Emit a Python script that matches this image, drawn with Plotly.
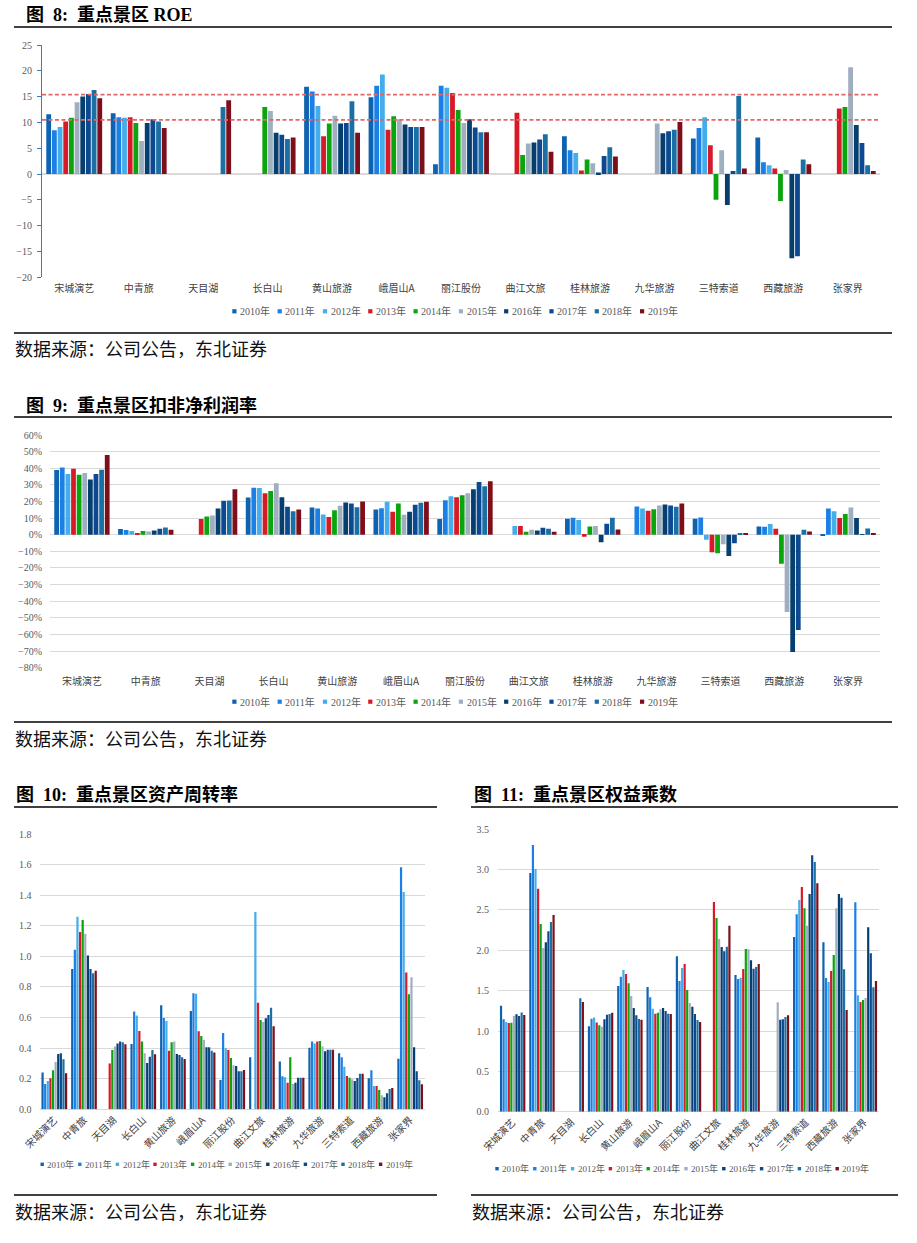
import plotly.graph_objects as go

# ---------------- data ----------------
categories = ["宋城演艺", "中青旅", "天目湖", "长白山", "黄山旅游", "峨眉山A", "丽江股份",
              "曲江文旅", "桂林旅游", "九华旅游", "三特索道", "西藏旅游", "张家界"]
years = ["2010年", "2011年", "2012年", "2013年", "2014年", "2015年", "2016年", "2017年", "2018年", "2019年"]
colors = ["#0d63b0", "#1b7fe6", "#44aeea", "#d71a28", "#0aa40c",
          "#a0afc0", "#063e6e", "#0d4991", "#1a70a5", "#7e0e19"]

N = None
# ROE (%), one row per company, columns 2010..2019
roe = [
    [11.6, 8.5, 9.1, 10.2, 10.9, 13.9, 15.0, 15.5, 16.3, 14.7],
    [11.8, 11.0, 10.9, 11.0, 9.9, 6.4, 9.9, 10.6, 10.2, 8.9],
    [N, N, N, N, N, N, N, N, 13.0, 14.3],
    [N, N, N, N, 13.0, 12.2, 8.0, 7.6, 6.8, 7.1],
    [16.9, 16.0, 13.2, 7.3, 9.8, 11.3, 9.8, 9.9, 14.1, 8.0],
    [14.9, 17.1, 19.3, 8.6, 11.2, 10.6, 9.6, 9.1, 9.1, 9.1],
    [1.9, 17.1, 16.7, 15.7, 12.4, 9.9, 10.6, 9.0, 8.1, 8.1],
    [N, N, N, 11.9, 3.7, 5.9, 6.1, 6.7, 7.7, 4.3],
    [7.3, 4.6, 4.1, 0.7, 2.8, 2.1, 0.3, 3.5, 5.2, 3.4],
    [N, N, N, N, N, 9.8, 7.9, 8.3, 8.6, 10.1],
    [6.9, 8.9, 11.0, 5.6, -5.0, 4.6, -6.0, 0.6, 15.1, 1.1],
    [7.1, 2.3, 1.7, 1.1, -5.2, 0.8, -16.3, -15.9, 2.8, 1.9],
    [N, N, N, 12.7, 13.0, 20.7, 9.5, 6.0, 1.7, 0.6],
]
roe_ref_lines = [15.4, 10.5]

# 扣非净利润率 (%)
net_margin = [
    [38.9, 40.5, 36.5, 39.7, 36.1, 37.1, 33.3, 36.5, 39.1, 47.9],
    [3.4, 2.8, 2.2, 1.0, 2.2, 2.0, 2.6, 3.6, 4.4, 3.0],
    [N, N, N, 9.4, 11.0, 11.6, 15.8, 20.4, 20.6, 27.3],
    [22.4, 28.3, 28.1, 25.0, 26.3, 30.9, 22.6, 16.8, 14.2, 15.2],
    [16.4, 15.8, 12.2, 10.6, 14.8, 17.4, 19.4, 18.8, 16.6, 20.0],
    [15.2, 16.0, 19.8, 13.8, 18.8, 12.0, 13.8, 18.0, 19.2, 19.8],
    [9.4, 20.8, 23.2, 22.6, 23.8, 25.0, 27.3, 31.7, 29.1, 32.1],
    [N, N, 5.2, 5.2, 1.8, 3.0, 2.6, 4.2, 3.6, 1.8],
    [9.6, 10.2, 8.8, -1.2, 5.0, 5.2, -4.6, 6.6, 10.2, 3.2],
    [N, 17.0, 15.8, 14.4, 15.4, 17.6, 18.2, 17.6, 16.8, 18.8],
    [9.6, 10.4, -3.0, -10.6, -11.2, -5.8, -12.8, -5.2, 0.8, 0.8],
    [5.0, 4.8, 6.4, 3.6, -17.4, -46.5, -70.5, -57.3, 3.0, 2.0],
    [-0.8, 15.8, 14.2, 10.0, 12.4, 16.4, 10.0, 0.2, 3.8, 0.8],
]

# 资产周转率
turnover = [
    [0.24, 0.166, 0.185, 0.203, 0.255, 0.31, 0.362, 0.366, 0.327, 0.235],
    [0.917, 1.044, 1.259, 1.159, 1.237, 1.148, 1.006, 0.917, 0.889, 0.906],
    [N, N, N, 0.30, 0.388, 0.41, 0.431, 0.444, 0.438, 0.425],
    [0.427, 0.64, 0.614, 0.512, 0.444, 0.366, 0.303, 0.344, 0.388, 0.36],
    [0.68, 0.597, 0.577, 0.383, 0.438, 0.444, 0.362, 0.355, 0.34, 0.329],
    [0.643, 0.758, 0.756, 0.51, 0.479, 0.455, 0.405, 0.405, 0.383, 0.372],
    [0.192, 0.499, 0.399, 0.388, 0.336, 0.288, 0.283, 0.248, 0.248, 0.257],
    [0.34, N, 1.29, 0.697, 0.584, 0.571, 0.595, 0.617, 0.664, 0.543],
    [0.312, 0.216, 0.209, 0.174, 0.34, 0.166, 0.174, 0.207, 0.207, 0.207],
    [0.403, 0.444, 0.431, 0.444, 0.446, 0.41, 0.379, 0.39, 0.39, 0.39],
    [0.366, 0.34, 0.279, 0.218, 0.207, 0.196, 0.185, 0.205, 0.233, 0.233],
    [0.203, 0.255, 0.153, 0.153, 0.126, 0.092, 0.078, 0.105, 0.133, 0.139],
    [0.331, 1.582, 1.42, 0.895, 0.752, 0.863, 0.405, 0.248, 0.19, 0.163],
]

# 权益乘数
equity_multiplier = [
    [1.314, 1.145, 1.112, 1.099, 1.103, 1.19, 1.207, 1.186, 1.231, 1.198],
    [2.959, 3.306, 3.008, 2.764, 2.326, 2.029, 2.099, 2.236, 2.351, 2.438],
    [N, N, N, N, N, N, N, N, 1.405, 1.36],
    [1.058, 1.153, 1.169, 1.107, 1.07, 1.054, 1.145, 1.202, 1.211, 1.227],
    [1.558, 1.674, 1.756, 1.707, 1.591, 1.434, 1.285, 1.194, 1.149, 1.14],
    [1.545, 1.417, 1.277, 1.215, 1.227, 1.269, 1.285, 1.248, 1.215, 1.211],
    [1.926, 1.62, 1.781, 1.83, 1.508, 1.347, 1.302, 1.211, 1.136, 1.112],
    [N, N, N, 2.6, 2.4, 2.14, 2.04, 1.99, 2.045, 2.306],
    [1.694, 1.645, 1.661, 1.769, 2.017, 2.012, 1.876, 1.773, 1.793, 1.83],
    [N, N, N, N, N, 1.355, 1.14, 1.145, 1.174, 1.194],
    [2.165, 2.446, 2.624, 2.785, 2.52, 2.306, 2.698, 3.178, 3.095, 2.83],
    [2.099, 1.657, 1.607, 1.744, 1.942, 2.52, 2.698, 2.653, 1.764, 1.26],
    [N, 2.595, 1.442, 1.36, 1.384, 1.409, 2.285, 1.963, 1.541, 1.62],
]

titles = ["图\u00a0\u00a08:\u00a0\u00a0重点景区 ROE",
          "图\u00a0\u00a09:\u00a0\u00a0重点景区扣非净利润率",
          "图\u00a0\u00a010:\u00a0\u00a0重点景区资产周转率",
          "图\u00a0\u00a011:\u00a0\u00a0重点景区权益乘数"]
source_text = "数据来源：公司公告，东北证券"

# ---------------- layout helpers ----------------
W, H = 917, 1243


def fx(x):
    return x / W


def fy(y):
    return 1 - y / H


SERIF = "Liberation Serif, Noto Sans CJK SC"
CJK = "Noto Sans CJK SC"
TICK_FONT = dict(family=SERIF, size=10, color="#595959")
CAT_FONT = dict(family=CJK, size=10, color="#404040")
GRID = "#d9d9d9"

fig = go.Figure()

panels = [
    dict(rows=roe, xa="x", ya="y"),
    dict(rows=net_margin, xa="x2", ya="y2"),
    dict(rows=turnover, xa="x3", ya="y3"),
    dict(rows=equity_multiplier, xa="x4", ya="y4"),
]
for p in panels:
    for j, yr in enumerate(years):
        fig.add_trace(go.Bar(
            x=categories, y=[row[j] for row in p["rows"]], name=yr,
            marker=dict(color=colors[j], line=dict(width=0)),
            xaxis=p["xa"], yaxis=p["ya"], showlegend=False,
        ))

cat_axis = dict(type="category", categoryorder="array", categoryarray=categories,
                showgrid=False, showline=False, zeroline=False, ticks="",
                tickfont=CAT_FONT, fixedrange=True, automargin=False)

fig.update_layout(
    width=W, height=H,
    margin=dict(l=0, r=0, t=0, b=0, pad=0, autoexpand=False),
    paper_bgcolor="white", plot_bgcolor="white",
    barmode="group", bargap=0.12, bargroupgap=0.15,
    showlegend=False,
    xaxis=dict(cat_axis, domain=[fx(42), fx(880)], anchor="y", ticklabelstandoff=4),
    yaxis=dict(domain=[fy(277.3), fy(45)], anchor="x", range=[-20, 25], dtick=5, tick0=0,
               showgrid=False, zeroline=True, zerolinecolor=GRID, zerolinewidth=1.5,
               showline=True, linecolor="#3a7cc4", linewidth=1.2,
               ticks="outside", ticklen=4, tickcolor="#3a7cc4", tickfont=TICK_FONT,
               ticklabelstandoff=3, automargin=False),
    xaxis2=dict(cat_axis, domain=[fx(50), fx(880)], anchor="y2", ticklabelstandoff=6),
    yaxis2=dict(domain=[fy(667.7), fy(435)], anchor="x2", range=[-80, 60], dtick=10, tick0=0,
                ticksuffix="%", showgrid=True, gridcolor=GRID, gridwidth=1.2,
                zeroline=True, zerolinecolor=GRID, zerolinewidth=1.2, showline=False,
                tickfont=TICK_FONT, ticklabelstandoff=7, automargin=False),
    xaxis3=dict(cat_axis, domain=[fx(39.5), fx(425)], anchor="y3", tickangle=-45,
                ticklabelstandoff=2),
    yaxis3=dict(domain=[fy(1109.3), fy(834)], anchor="x3", range=[0, 1.8], dtick=0.2, tick0=0,
                tickformat=".1f", showgrid=True, gridcolor=GRID, gridwidth=1.2,
                zeroline=True, zerolinecolor=GRID, zerolinewidth=1.2, showline=False,
                tickfont=TICK_FONT, ticklabelstandoff=7, automargin=False),
    xaxis4=dict(cat_axis, domain=[fx(498), fx(879)], anchor="y4", tickangle=-45,
                ticklabelstandoff=2),
    yaxis4=dict(domain=[fy(1111.7), fy(829.3)], anchor="x4", range=[0, 3.5], dtick=0.5, tick0=0,
                tickformat=".1f", showgrid=True, gridcolor=GRID, gridwidth=1.2,
                zeroline=True, zerolinecolor=GRID, zerolinewidth=1.2, showline=False,
                tickfont=TICK_FONT, ticklabelstandoff=8, automargin=False),
)

shapes = []
annotations = []

# dashed reference lines on ROE chart
for v in roe_ref_lines:
    shapes.append(dict(type="line", xref="x domain", yref="y", x0=0, x1=1, y0=v, y1=v,
                       line=dict(color="#e46666", width=1.8, dash="4px,2.5px")))


def hline(y, x0, x1):
    shapes.append(dict(type="line", xref="paper", yref="paper",
                       x0=fx(x0), x1=fx(x1), y0=fy(y), y1=fy(y),
                       line=dict(color="black", width=1.4)))


def text(s, x, y, size, bold=False, family=SERIF, color="black"):
    annotations.append(dict(text=("<b>%s</b>" % s) if bold else s, xref="paper", yref="paper",
                            x=fx(x), y=fy(y), xanchor="left", yanchor="middle",
                            showarrow=False, font=dict(family=family, size=size, color=color)))


# titles and rules
text(titles[0], 24, 15, 18, bold=True)
hline(27, 14, 892)
hline(333, 14, 892)
text(source_text, 13, 348, 18, family=CJK, color="#111111")

text(titles[1], 24, 405, 18, bold=True)
hline(417, 14, 892)
hline(722, 14, 892)
text(source_text, 13, 738, 18, family=CJK, color="#111111")

text(titles[2], 14, 795, 18, bold=True)
text(titles[3], 472, 795, 18, bold=True)
hline(807, 14, 437)
hline(807, 471, 898)
hline(1195, 14, 437)
hline(1195, 471, 898)
text(source_text, 13, 1211, 18, family=CJK, color="#111111")
text(source_text, 470, 1211, 18, family=CJK, color="#111111")

# legends (one row of swatch + label per chart)
legend_specs = [
    dict(x0=232.3, step=45.3, y=311.3, sq=4.2, size=10),
    dict(x0=232.3, step=45.3, y=701.7, sq=4.2, size=10),
    dict(x0=40.5, step=37.6, y=1164.3, sq=3.4, size=9),
    dict(x0=495.3, step=37.8, y=1168.7, sq=3.4, size=9),
]
for spec in legend_specs:
    for j, yr in enumerate(years):
        xs = spec["x0"] + j * spec["step"]
        s = spec["sq"]
        shapes.append(dict(type="rect", xref="paper", yref="paper",
                           x0=fx(xs), x1=fx(xs + s), y0=fy(spec["y"] + s / 2), y1=fy(spec["y"] - s / 2),
                           fillcolor=colors[j], line=dict(width=0)))
        annotations.append(dict(text=yr, xref="paper", yref="paper",
                                x=fx(xs + s + 1.5), y=fy(spec["y"]), xanchor="left", yanchor="middle",
                                showarrow=False,
                                font=dict(family=SERIF, size=spec["size"], color="#595959")))

fig.update_layout(shapes=shapes, annotations=annotations)

fig.write_html("out.html", config={"displayModeBar": False},
               post_script="document.body.style.margin='0';document.body.style.overflow='hidden';")
